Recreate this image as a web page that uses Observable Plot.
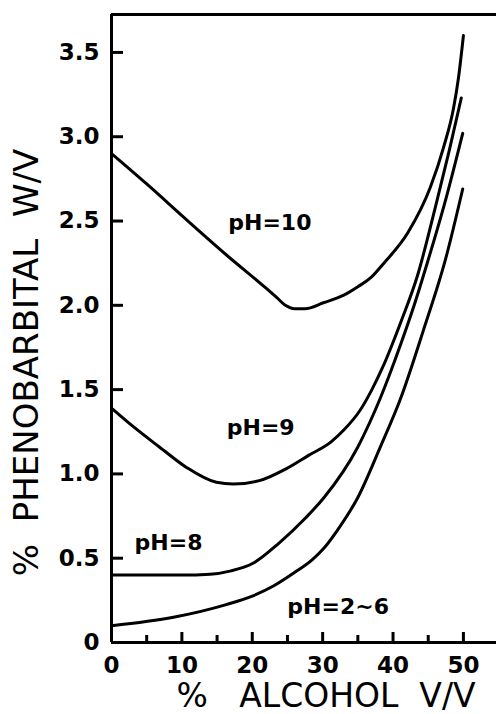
<!DOCTYPE html>
<html>
<head>
<meta charset="utf-8">
<script src="https://cdn.jsdelivr.net/npm/d3@7"></script>
<script src="https://cdn.jsdelivr.net/npm/@observablehq/plot@0.6"></script>
<style>
  html, body { margin: 0; padding: 0; background: #fff; }
  #chart { width: 496px; height: 714px; }
</style>
</head>
<body>
<div id="chart"></div>
<script>
// ---- data ----
const alcoholPH10 = [0, 5, 10.6, 16.3, 22, 23.5, 24.7, 26, 27.5, 30.1, 33, 35, 37, 38.7, 42.1, 45.3, 47.2, 48.6, 49.3, 50];
const phenoPH10   = [2.90, 2.72, 2.51, 2.30, 2.10, 2.045, 2.00, 1.98, 1.98, 2.015, 2.06, 2.11, 2.17, 2.25, 2.43, 2.70, 2.94, 3.17, 3.35, 3.60];

const alcoholPH9 = [0, 3.1, 6.8, 10.6, 14.9, 17.3, 21, 24.8, 28, 31.2, 33, 35.2, 37, 38.5, 41.1, 43.5, 46, 48, 49.7];
const phenoPH9   = [1.39, 1.28, 1.16, 1.04, 0.95, 0.94, 0.96, 1.03, 1.11, 1.19, 1.26, 1.37, 1.50, 1.63, 1.90, 2.18, 2.58, 2.92, 3.23];

const alcoholPH8 = [0, 5, 10, 14, 17, 20.1, 23.8, 27.6, 30.2, 35, 38.2, 41.1, 43, 45, 47.5, 49.9];
const phenoPH8   = [0.40, 0.40, 0.40, 0.405, 0.425, 0.47, 0.59, 0.74, 0.86, 1.16, 1.45, 1.77, 2.00, 2.27, 2.63, 3.02];

const alcoholPH2to6 = [0, 8.8, 16.3, 20, 23, 26, 28.5, 30.2, 32.5, 35, 38.2, 41.1, 44.3, 47.5, 49.9];
const phenoPH2to6   = [0.10, 0.15, 0.225, 0.275, 0.335, 0.415, 0.49, 0.56, 0.69, 0.86, 1.16, 1.45, 1.85, 2.28, 2.69];

const curveLabels  = ["pH=10", "pH=9", "pH=8", "pH=2~6"];
const labelAlcohol = [22.5, 21.2, 8.1, 32.2];
const labelPheno   = [2.49, 1.27, 0.59, 0.21];

const xMajorTicks = [0, 10, 20, 30, 40, 50];
const xMinorTicks = [5, 15, 25, 35, 45];
const yTicks = [0, 0.5, 1.0, 1.5, 2.0, 2.5, 3.0, 3.5];
const xDomain = [0, 54.7];
const yDomain = [0, 3.725];

const xTitle = "%   ALCOHOL  V/V";
const yTitle = "%  PHENOBARBITAL  W/V";

// ---- build tables ----
const toRows = (xs, ys, s) => xs.map((x, i) => ({alcohol: x, pheno: ys[i], series: s}));
const series = [
  toRows(alcoholPH10, phenoPH10, "10"),
  toRows(alcoholPH9, phenoPH9, "9"),
  toRows(alcoholPH8, phenoPH8, "8"),
  toRows(alcoholPH2to6, phenoPH2to6, "2-6")
];
const labels = curveLabels.map((t, i) => ({text: t, x: labelAlcohol[i], y: labelPheno[i]}));

const lineStyle = {x: "alcohol", y: "pheno", stroke: "black", strokeWidth: 3, curve: "monotone-x", strokeLinecap: "round"};

const chart = Plot.plot({
  width: 496,
  height: 714,
  marginLeft: 111,
  marginRight: 0,
  marginTop: 14,
  marginBottom: 72,
  style: {fontFamily: "'DejaVu Sans', sans-serif", background: "white", color: "black", overflow: "visible"},
  x: {domain: xDomain},
  y: {domain: yDomain},
  marks: [
    Plot.axisY({ticks: yTicks, tickSize: -12, tickPadding: 24, strokeWidth: 3, fontSize: 23, fontWeight: "bold",
      tickFormat: d => d === 0 ? "0" : d.toFixed(1), label: null}),
    Plot.axisX({ticks: xMajorTicks, tickSize: -10, tickPadding: 24, strokeWidth: 3, fontSize: 23, fontWeight: "bold",
      tickFormat: d => String(d), label: null}),
    Plot.axisX({ticks: xMinorTicks, tickSize: -7, strokeWidth: 3, tickFormat: () => "", label: null}),
    Plot.ruleX([xDomain[0]], {stroke: "black", strokeWidth: 3}),
    Plot.ruleY([yDomain[0]], {stroke: "black", strokeWidth: 3}),
    Plot.ruleY([yDomain[1]], {stroke: "black", strokeWidth: 3}),
    ...series.map(rows => Plot.line(rows, lineStyle)),
    Plot.text(labels, {x: "x", y: "y", text: "text", fontSize: 22, fontWeight: "bold", fill: "black"}),
    Plot.text([yTitle], {frameAnchor: "left", textAnchor: "middle", lineAnchor: "middle", rotate: -90,
      dx: -84, dy: 34, fontSize: 34, fill: "black"}),
    Plot.text([xTitle], {frameAnchor: "bottom", textAnchor: "middle", lineAnchor: "middle",
      dx: 22, dy: 54, fontSize: 33, fill: "black"})
  ]
});
document.getElementById("chart").appendChild(chart);
</script>
</body>
</html>
